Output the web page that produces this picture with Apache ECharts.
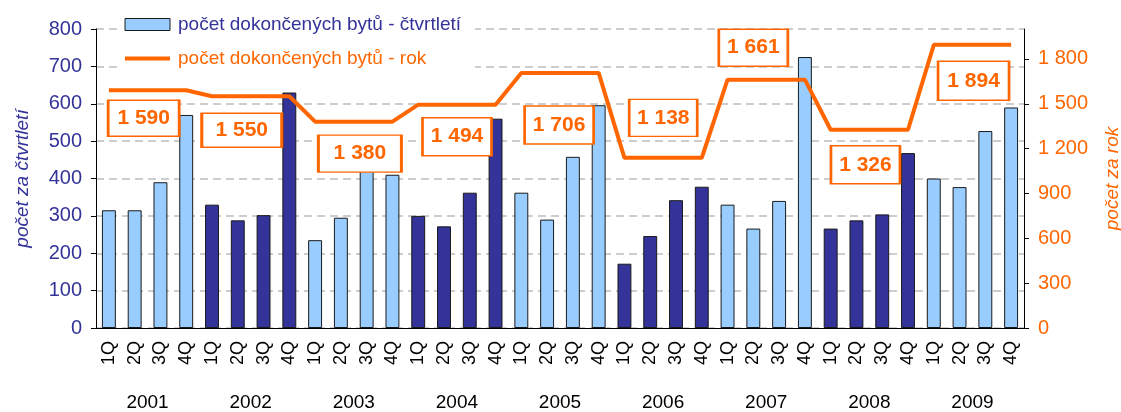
<!DOCTYPE html>
<html>
<head>
<meta charset="utf-8">
<script src="https://cdn.jsdelivr.net/npm/echarts@6/dist/echarts.min.js"></script>
<style>
  html, body { margin: 0; padding: 0; background: #fff; }
  #chart { width: 1121px; height: 412px; }
</style>
</head>
<body>
<div id="chart"></div>
<script>
const years = ['2001', '2002', '2003', '2004', '2005', '2006', '2007', '2008', '2009'];
const quarters = ['1Q', '2Q', '3Q', '4Q'];
// dokončené byty za čtvrtletí (1Q..4Q každého roku)
const quarterly = [
  315, 315, 390, 570,
  330, 288, 302, 630,
  235, 295, 440, 410,
  300, 272, 362, 560,
  362, 290, 458, 596,
  172, 246, 342, 378,
  330, 266, 340, 725,
  266, 288, 304, 468,
  400, 377, 527, 590
];
// dokončené byty za rok
const annual = [1590, 1550, 1380, 1494, 1706, 1138, 1661, 1326, 1894];

const seriesNames = ['počet dokončených bytů - čtvrtletí', 'počet dokončených bytů - rok'];
const leftName = 'počet za čtvrtletí';
const rightName = 'počet za rok';

// label box placement per year: [dx, dy, width, height] around the 2Q point
const boxLayout = [
  [9, 28, 73, 38], [4, 34, 82, 36], [19, 32, 85, 39], [13, 32, 71, 40], [12, 52, 71, 40],
  [13, -40, 70, 39], [0, -32, 71, 39], [9, 35, 71, 40], [14, 36, 73, 41]
];

const LIGHT = '#99CCFF', DARK = '#333399', ORANGE = '#FF6600';
const FONT = '"Liberation Sans", Arial, sans-serif';

const categories = [];
years.forEach(y => quarters.forEach(q => categories.push(y + ' ' + q)));

const fmt = v => String(v).replace(/\B(?=(\d{3})+(?!\d))/g, ' ');

const barData = quarterly.map((v, i) => ({
  value: v,
  itemStyle: { color: Math.floor(i / 4) % 2 === 0 ? LIGHT : DARK }
}));
const lineData = categories.map((c, i) => annual[Math.floor(i / 4)]);

const markData = annual.map((v, i) => {
  const [dx, dy, w, h] = boxLayout[i];
  return {
    coord: [categories[i * 4 + 1], v],
    value: v,
    symbolSize: [w - 2, h - 2],
    symbolOffset: [dx, dy]
  };
});

const chart = echarts.init(document.getElementById('chart'), null, { renderer: 'canvas' });

chart.setOption({
  animation: false,
  backgroundColor: '#fff',
  textStyle: { fontFamily: FONT },
  grid: { left: 96, right: 97, top: 29, bottom: 84, containLabel: false, outerBoundsMode: 'none' },
  legend: {
    orient: 'vertical',
    left: 119,
    top: 11,
    itemWidth: 45,
    itemHeight: 12,
    itemGap: 15,
    padding: [4, 14, 4, 4],
    backgroundColor: '#fff',
    data: [
      {
        name: seriesNames[0],
        icon: 'rect',
        itemStyle: { color: LIGHT, borderColor: '#1a1a1a', borderWidth: 1 },
        textStyle: { color: DARK }
      },
      {
        name: seriesNames[1],
        itemStyle: { opacity: 0 },
        lineStyle: { color: ORANGE, width: 4 },
        textStyle: { color: ORANGE }
      }
    ],
    textStyle: { fontSize: 19, fontFamily: FONT, padding: [0, 0, 0, 3] }
  },
  xAxis: [
    {
      type: 'category',
      data: categories,
      axisLine: { lineStyle: { color: '#000', width: 1 } },
      axisTick: { length: 42, interval: 0, lineStyle: { color: '#000' } },
      axisLabel: {
        interval: 0,
        rotate: 90,
        margin: 13,
        fontSize: 18,
        color: '#000',
        formatter: v => v.split(' ')[1]
      }
    },
    {
      type: 'category',
      position: 'bottom',
      data: years,
      axisLine: { show: false },
      axisTick: { length: 84, interval: 0, lineStyle: { color: '#000' } },
      axisLabel: { interval: 0, margin: 65, fontSize: 19, color: '#000' }
    }
  ],
  yAxis: [
    {
      type: 'value',
      min: 0,
      max: 800,
      interval: 100,
      name: leftName,
      nameLocation: 'middle',
      nameGap: 64,
      nameRotate: 90,
      nameTextStyle: { color: DARK, fontSize: 19, fontStyle: 'italic' },
      axisLine: { show: true, lineStyle: { color: '#000' } },
      axisTick: { show: true, length: 5, lineStyle: { color: '#000' } },
      axisLabel: { color: DARK, fontSize: 20, margin: 14 },
      splitLine: { show: true, lineStyle: { color: '#bdbdbd', type: [8, 5], width: 1.5 } }
    },
    {
      type: 'value',
      min: 0,
      max: 2000,
      interval: 300,
      position: 'right',
      name: rightName,
      nameLocation: 'middle',
      nameGap: 79,
      nameRotate: 90,
      nameTextStyle: { color: ORANGE, fontSize: 19, fontStyle: 'italic' },
      axisLine: { show: true, lineStyle: { color: '#000' } },
      axisTick: { show: true, length: 5, lineStyle: { color: '#000' } },
      axisLabel: { color: ORANGE, fontSize: 20, margin: 14, showMaxLabel: false, formatter: v => fmt(v) },
      splitLine: { show: false }
    }
  ],
  series: [
    {
      name: seriesNames[0],
      type: 'bar',
      xAxisIndex: 0,
      yAxisIndex: 0,
      data: barData,
      barCategoryGap: '46%',
      itemStyle: { color: LIGHT, borderColor: '#1a1a1a', borderWidth: 1 }
    },
    {
      name: seriesNames[1],
      type: 'line',
      xAxisIndex: 0,
      yAxisIndex: 1,
      data: lineData,
      symbol: 'none',
      color: ORANGE,
      lineStyle: { color: ORANGE, width: 4 },
      z: 3,
      markPoint: {
        symbol: 'rect',
        itemStyle: { color: '#fff', borderColor: ORANGE, borderWidth: 2 },
        label: {
          show: true,
          position: 'inside',
          color: ORANGE,
          fontWeight: 'bold',
          fontSize: 21,
          fontFamily: FONT,
          formatter: p => fmt(p.value)
        },
        data: markData
      }
    }
  ]
});
</script>
</body>
</html>
